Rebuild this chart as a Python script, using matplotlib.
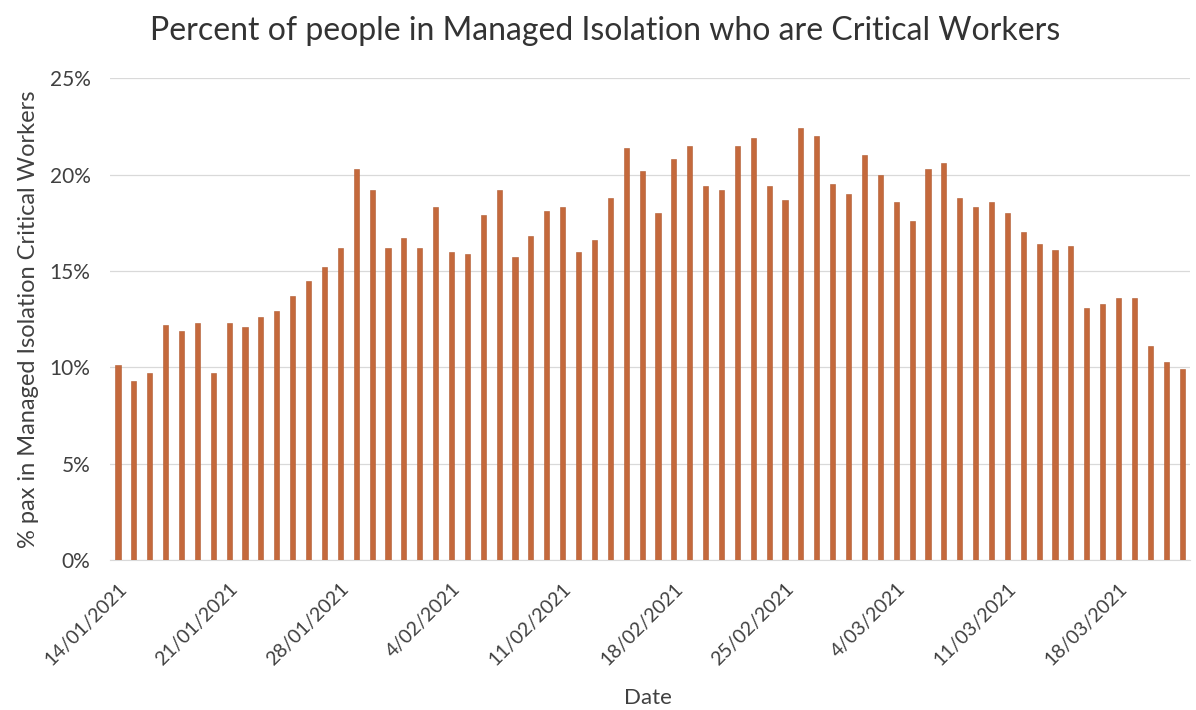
import numpy as np
import pandas as pd
import matplotlib
matplotlib.use("Agg")
import matplotlib.pyplot as plt
from matplotlib.ticker import PercentFormatter

# daily share of managed isolation people who are critical workers (%)
start_date = "2021-01-14"
pct_critical = [
    10.1, 9.3, 9.7, 12.2, 11.9, 12.3, 9.7, 12.3, 12.1, 12.6,
    12.9, 13.7, 14.5, 15.2, 16.2, 20.3, 19.2, 16.2, 16.7, 16.2,
    18.3, 16.0, 15.9, 17.9, 19.2, 15.7, 16.8, 18.1, 18.3, 16.0,
    16.6, 18.8, 21.4, 20.2, 18.0, 20.8, 21.5, 19.4, 19.2, 21.5,
    21.9, 19.4, 18.7, 22.4, 22.0, 19.5, 19.0, 21.0, 20.0, 18.6,
    17.6, 20.3, 20.6, 18.8, 18.3, 18.6, 18.0, 17.0, 16.4, 16.1,
    16.3, 13.1, 13.3, 13.6, 13.6, 11.1, 10.3, 9.9,
]
tick_labels = ["14/01/2021", "21/01/2021", "28/01/2021", "4/02/2021",
               "11/02/2021", "18/02/2021", "25/02/2021", "4/03/2021",
               "11/03/2021", "18/03/2021"]

dates = pd.date_range(start=start_date, periods=len(pct_critical))
x = np.arange(len(dates))

plt.rcParams["font.family"] = ["Lato", "DejaVu Sans"]

fig = plt.figure(figsize=(11.96, 7.10), dpi=100)
ax = fig.add_axes([0.092, 0.211, 0.903, 0.679])

ax.bar(x, pct_critical, width=0.32, color="#C4693C", edgecolor="#B05A30",
       linewidth=0.4, zorder=3)

ax.set_xlim(-0.5, len(x) - 0.5)
ax.set_ylim(0, 25)
ax.set_yticks([0, 5, 10, 15, 20, 25])
ax.yaxis.set_major_formatter(PercentFormatter(decimals=0))
ax.grid(axis="y", color="#D9D9D9", linewidth=0.9, zorder=0)

# one tick per week, starting from the first day
tick_pos = [i for i, d in enumerate(dates) if (d - dates[0]).days % 7 == 0]
ax.set_xticks(tick_pos)
ax.set_xticklabels(tick_labels, rotation=45, ha="right",
                   rotation_mode="anchor", fontsize=14, color="#404040")
ax.tick_params(axis="y", labelsize=15, colors="#404040", length=0, pad=14)
ax.tick_params(axis="x", length=0, pad=14)

for side in ["top", "right", "left"]:
    ax.spines[side].set_visible(False)
ax.spines["bottom"].set_color("#D9D9D9")

ax.set_ylabel("% pax in Managed Isolation Critical Workers", fontsize=17,
              color="#404040", labelpad=8)
ax.set_xlabel("Date", fontsize=16, color="#404040")
ax.xaxis.set_label_coords(0.498, -0.265)
fig.suptitle("Percent of people in Managed Isolation who are Critical Workers",
             fontsize=23, color="#333333", x=0.506, y=0.978)

plt.savefig("out.png", dpi=100)
